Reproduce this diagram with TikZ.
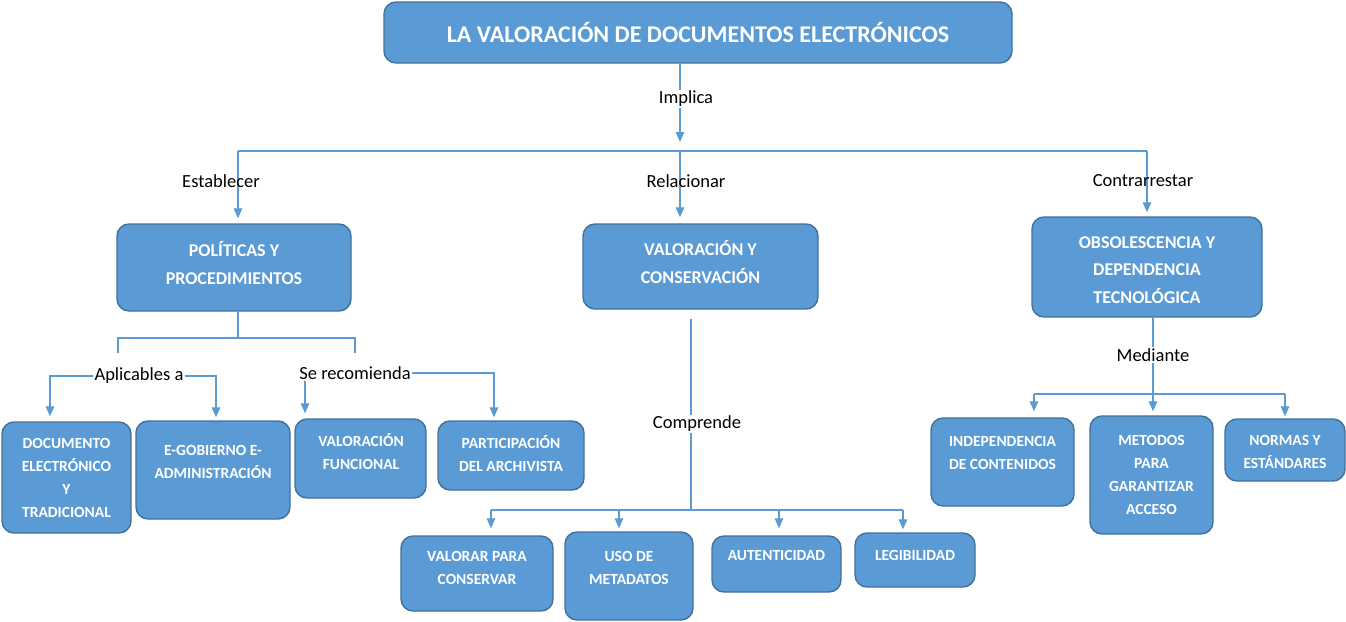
\documentclass[tikz,border=0pt]{standalone}
\usepackage{fontspec}
\setmainfont{Carlito}
\usetikzlibrary{arrows.meta}
\definecolor{boxblue}{HTML}{5B9BD5}
\definecolor{boxedge}{HTML}{41719C}
\definecolor{linecol}{HTML}{5B9BD5}
\begin{document}
\begin{tikzpicture}[x=1pt,y=-1pt,
  bx/.style={draw=boxedge, fill=boxblue, line width=1.4pt, rounded corners=12pt, inner sep=0pt,
             text=white, align=center, font=\bfseries\fontsize{15.5}{23}\selectfont},
  tx/.style={text=white, align=center, inner sep=0pt, font=\bfseries\fontsize{15.5}{23}\selectfont},
  txm/.style={tx, font=\bfseries\fontsize{18}{27.5}\selectfont},
  lab/.style={font=\fontsize{18.5}{22}\selectfont, inner sep=1pt, text=black},
  labw/.style={lab, fill=white},
  ln/.style={draw=linecol, line width=1.3pt},
  ar/.style={ln, -{Triangle[length=10pt,width=8.5pt]}},
]
\path[use as bounding box, fill=white] (0,0) rectangle (1346,621);

% ---------- boxes ----------
\node[bx, minimum width=628, minimum height=61, font=\bfseries\fontsize{24}{28}\selectfont] (title) at (698,32.5) {LA VALORACIÓN DE DOCUMENTOS ELECTRÓNICOS};

\node[bx, minimum width=234, minimum height=87] (pol) at (234,267.5) {};
\node[txm] (polT) at (234,263) {POLÍTICAS Y\\PROCEDIMIENTOS};
\node[bx, minimum width=235, minimum height=85] (val) at (700.5,266.5) {};
\node[txm] (valT) at (700.5,262) {VALORACIÓN Y\\CONSERVACIÓN};
\node[bx, minimum width=230, minimum height=100] (obs) at (1147,267) {};
\node[txm] (obsT) at (1147,270) {OBSOLESCENCIA Y\\DEPENDENCIA\\TECNOLÓGICA};

\node[bx, minimum width=129, minimum height=111] (doc) at (66.5,477.5) {DOCUMENTO\\ELECTRÓNICO\\Y\\TRADICIONAL};
\node[bx, minimum width=154, minimum height=98] (egob) at (213,470) {};
\node[tx] (egobT) at (213,462) {E-GOBIERNO E-\\ADMINISTRACIÓN};
\node[bx, minimum width=131, minimum height=79] (valf) at (360.5,458.5) {};
\node[tx] (valfT) at (361,452) {VALORACIÓN\\FUNCIONAL};
\node[bx, minimum width=146, minimum height=69] (part) at (511,455.5) {};
\node[tx] (partT) at (511,454) {PARTICIPACIÓN\\DEL ARCHIVISTA};

\node[bx, minimum width=152, minimum height=75] (vpc) at (477,573.5) {};
\node[tx] (vpcT) at (477,568) {VALORAR PARA\\CONSERVAR};
\node[bx, minimum width=128, minimum height=88] (uso) at (629,576) {};
\node[tx] (usoT) at (629,568) {USO DE\\METADATOS};
\node[bx, minimum width=129, minimum height=56] (aut) at (776.5,564) {};
\node[tx] (autT) at (776.5,555) {AUTENTICIDAD};
\node[bx, minimum width=120, minimum height=54] (leg) at (915,560) {};
\node[tx] (legT) at (915,555) {LEGIBILIDAD};

\node[bx, minimum width=143, minimum height=88] (ind) at (1002.5,462) {};
\node[tx] (indT) at (1002.5,453) {INDEPENDENCIA\\DE CONTENIDOS};
\node[bx, minimum width=123, minimum height=118] (met) at (1151.5,475) {METODOS\\PARA\\GARANTIZAR\\ACCESO};
\node[bx, minimum width=120, minimum height=62] (nor) at (1285,450) {};
\node[tx] (norT) at (1285,452) {NORMAS Y\\ESTÁNDARES};

% ---------- level 1 ----------
\node[labw] (impl) at (686,99) {Implica};
\coordinate (j0) at (680,151);
\coordinate (jl) at (238,151);
\coordinate (jr) at (1147,151);
\draw[ln] (title.south -| j0) -- (impl.north -| j0);
\draw[ar, shorten >=9pt] (impl.south -| j0) -- (j0);
\draw[ln] (jl) -- (jr);
\draw[ar, shorten >=5pt] (jl) -- (pol.north -| jl);
\draw[ar, shorten >=6pt] (j0) -- (j0 |- val.north);
\draw[ar, shorten >=4pt] (jr) -- (obs.north -| jr);
\node[lab] (estab) at (221,181) {Establecer};
\node[lab] (relac) at (686,181) {Relacionar};
\node[lab] (contr) at (1143,181) {Contrarrestar};

% ---------- Políticas subtree ----------
\coordinate (p0) at (238,338);
\coordinate (pl) at (118,338);
\coordinate (pr) at (355,338);
\coordinate (pl2) at (118,353);
\coordinate (pr2) at (355,353);
\draw[ln] (pol.south -| p0) -- (p0);
\draw[ln] (pl2) -- (pl) -- (pr) -- (pr2);

\node[labw] (aplic) at (139,376) {Aplicables a};
\coordinate (a1) at (50,376);
\coordinate (a2) at (216,376);
\draw[ar, shorten >=5pt] (aplic.west) -- (a1) -- (a1 |- doc.north);
\draw[ar, shorten >=3pt] (aplic.east) -- (a2) -- (a2 |- egob.north);

\node[labw] (serec) at (355,373) {Se recomienda};
\coordinate (s1) at (305,373);
\coordinate (s2) at (494,373);
\draw[ar, shorten >=5pt] (serec.south -| s1) -- (s1 |- valf.north);
\draw[ar, shorten >=3pt] (serec.east) -- (s2) -- (s2 |- part.north);

% ---------- Valoración subtree ----------
\node[labw] (compr) at (697,424) {Comprende};
\coordinate (c0) at (691,510);
\coordinate (c1) at (491,510);
\coordinate (c2) at (619,510);
\coordinate (c3) at (779,510);
\coordinate (c4) at (903,510);
\draw[ln, shorten <=9pt] (val.south -| c0) -- (compr.north -| c0);
\draw[ln] (compr.south -| c0) -- (c0);
\draw[ln] (c1) -- (c4);
\draw[ar, shorten >=7pt] (c1) -- (c1 |- vpc.north);
\draw[ar, shorten >=3pt] (c2) -- (c2 |- uso.north);
\draw[ar, shorten >=7pt] (c3) -- (c3 |- aut.north);
\draw[ar, shorten >=3pt] (c4) -- (c4 |- leg.north);

% ---------- Obsolescencia subtree ----------
\node[labw] (medi) at (1153,355) {Mediante};
\coordinate (m0) at (1153,394);
\coordinate (m1) at (1034,394);
\coordinate (m3) at (1285,394);
\draw[ln] (obs.south -| m0) -- (medi.north -| m0);
\draw[ln] (medi.south -| m0) -- (m0);
\draw[ln] (m1) -- (m3);
\draw[ar, shorten >=6pt] (m1) -- (m1 |- ind.north);
\draw[ar, shorten >=4pt] (m0) -- (m0 |- met.north);
\draw[ar, shorten >=2pt] (m3) -- (m3 |- nor.north);
\end{tikzpicture}
\end{document}
